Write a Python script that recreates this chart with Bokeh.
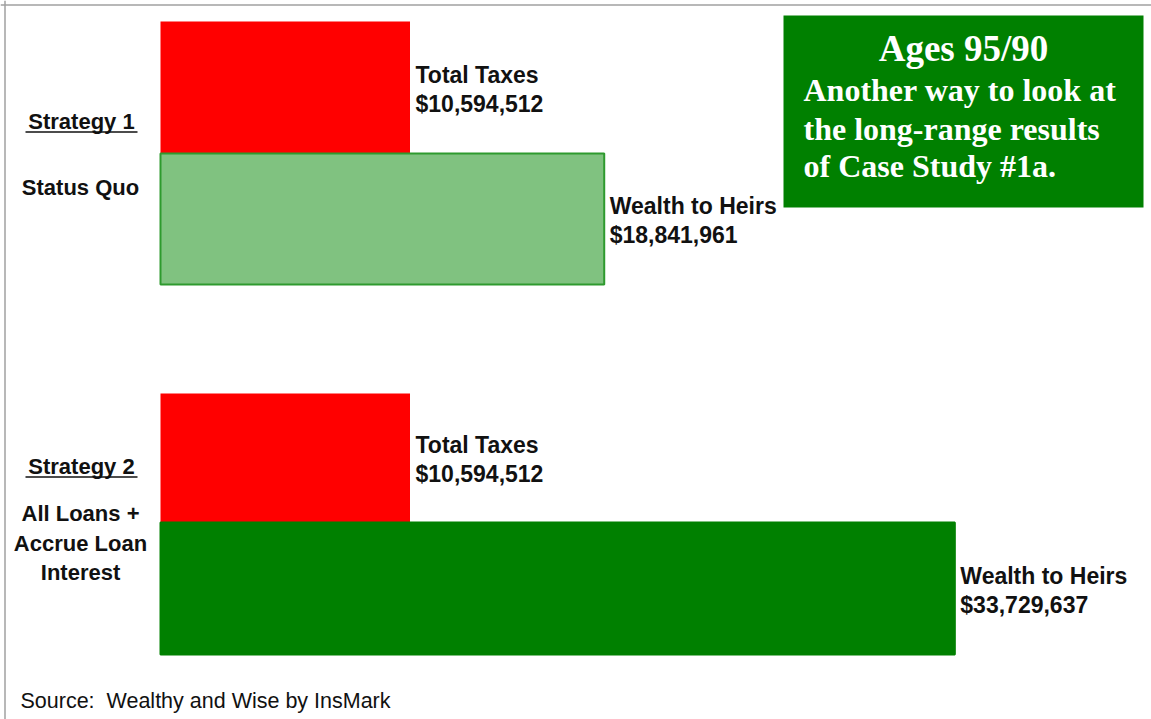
from bokeh.plotting import figure
from bokeh.models import Range1d, Span
from bokeh.core.properties import value
from bokeh.embed import file_html
from bokeh.resources import INLINE

# ---- data ----
strategies = ["Strategy 1", "Strategy 2"]
strategy_desc = [["Status Quo"], ["All Loans +", "Accrue Loan", "Interest"]]
total_taxes = [10594512, 10594512]
wealth_to_heirs = [18841961, 33729637]
tax_label = "Total Taxes"
wealth_label = "Wealth to Heirs"
box_title = "Ages 95/90"
box_lines = ["Another way to look at", "the long-range results", "of Case Study #1a."]
source_text = "Source:  Wealthy and Wise by InsMark"

# ---- layout (pixels) ----
W, H = 1151, 719
X0 = 160.0          # pixel of value 0
SCALE = 23.55 / 1e6  # pixels per dollar


def px2x(px):
    return (px - X0) / SCALE


p = figure(width=W, height=H, output_backend="svg", toolbar_location=None,
           x_range=Range1d(px2x(0), px2x(W)), y_range=Range1d(H, 0),
           min_border=0, min_border_left=0, min_border_right=0,
           min_border_top=0, min_border_bottom=0)
p.axis.visible = False
p.grid.visible = False
p.outline_line_color = None
p.background_fill_color = "white"
p.border_fill_color = "white"

# frame lines
p.add_layout(Span(location=4.5, dimension="width", line_color="#a0a0a0", line_width=1.5))
p.add_layout(Span(location=px2x(4.5), dimension="height", line_color="#a0a0a0", line_width=1.5))

tax_centers = [87, 457.5]
tax_heights = [132, 129]
wealth_centers = [218.5, 588]
wealth_heights = [131, 132]
wealth_fill = ["#80c280", "#008000"]
wealth_line = ["#2e9a2e", "#008000"]

p.hbar(y=tax_centers, left=0, right=total_taxes, height=tax_heights,
       fill_color="#ff0000", line_color=None)
p.hbar(y=wealth_centers, left=0, right=wealth_to_heirs, height=wealth_heights,
       fill_color=wealth_fill, line_color=wealth_line, line_width=2)

LBL_FONT = value("Liberation Sans")
pad = 5.5 / SCALE


def fmt(v):
    return "${:,}".format(v)


for i in range(2):
    for vals, centers, name in ((total_taxes, tax_centers, tax_label),
                                (wealth_to_heirs, wealth_centers, wealth_label)):
        cy = centers[i] + 1.5
        p.text(x=[vals[i] + pad, vals[i] + pad], y=[cy - 14.5, cy + 14.5],
               text=[name, fmt(vals[i])], text_font=LBL_FONT,
               text_font_size="23px", text_font_style="bold",
               text_color="#111111", text_baseline="middle", text_align="left")

# strategy labels
strat_y = [121, 466]
desc_y = [[187], [513, 543, 572]]
for i in range(2):
    p.text(x=[px2x(81)], y=[strat_y[i]], text=[strategies[i]], text_font=LBL_FONT,
           text_font_size="22px", text_font_style="bold", text_color="#111111",
           text_baseline="middle", text_align="center")
    p.segment(x0=[px2x(25)], x1=[px2x(137)], y0=[strat_y[i] + 10.5], y1=[strat_y[i] + 10.5],
              line_color="#111111", line_width=1.5)
    p.text(x=[px2x(80)] * len(desc_y[i]), y=desc_y[i], text=strategy_desc[i],
           text_font=LBL_FONT, text_font_size="22px", text_font_style="bold",
           text_color="#111111", text_baseline="middle", text_align="center")

# green box
p.quad(left=[px2x(783)], right=[px2x(1143)], top=[15], bottom=[207],
       fill_color="#008000", line_color=None)
SERIF = value("Liberation Serif")
p.text(x=[px2x(963)], y=[48], text=[box_title], text_font=SERIF,
       text_font_size="37px", text_font_style="bold", text_color="white",
       text_baseline="middle", text_align="center")
p.text(x=[px2x(803)] * 3, y=[89, 128, 165], text=box_lines, text_font=SERIF,
       text_font_size="32px", text_font_style="bold", text_color="white",
       text_baseline="middle", text_align="left")

# source (non-breaking space keeps the double gap visible in SVG)
p.text(x=[px2x(20)], y=[700], text=[source_text.replace("  ", " \u00a0")], text_font=LBL_FONT,
       text_font_size="21.5px", text_color="#111111", text_baseline="middle",
       text_align="left")

html = file_html(p, INLINE)
html = html.replace("<head>", "<head><style>html,body{margin:0;padding:0;}</style>", 1)
open("out.html", "w").write(html)
